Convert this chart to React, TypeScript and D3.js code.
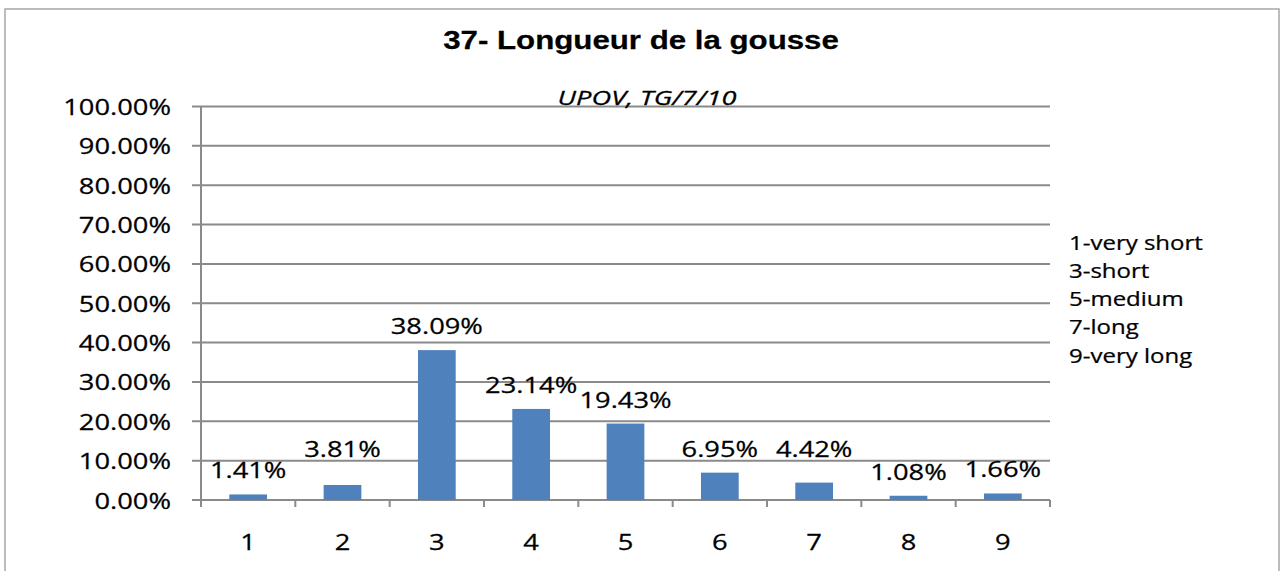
import React from "react";
import * as d3 from "d3";

const categories = ["1", "2", "3", "4", "5", "6", "7", "8", "9"];
const values = [1.41, 3.81, 38.09, 23.14, 19.43, 6.95, 4.42, 1.08, 1.66];
const labelLift = [0, 12, 0, 0, 0, 0, 10, 0, 0];
const yTicks = [0, 10, 20, 30, 40, 50, 60, 70, 80, 90, 100];
const legendItems = ["1-very short", "3-short", "5-medium", "7-long", "9-very long"];
const title = "37- Longueur de la gousse";
const subtitle = "UPOV, TG/7/10";

const W = 1283;
const H = 571;
const left = 201;
const right = 1050;
const top = 106.5;
const bottom = 500;
const SX = 1.3;
const FONT = "'Open Sans', sans-serif";
const GRID = "#8a8a8a";
const BAR = "#4F81BD";

function SText(props: {
  x: number;
  y: number;
  anchor?: string;
  size?: number;
  sx?: number;
  family?: string;
  weight?: string | number;
  italic?: boolean;
  children: React.ReactNode;
}) {
  const { x, y, anchor = "start", size = 21, sx = SX, family = FONT, weight = 400, italic = false } = props;
  return (
    <text
      transform={`translate(${x},${y}) scale(${sx},1)`}
      textAnchor={anchor}
      fontSize={size}
      fontFamily={family}
      fontWeight={weight}
      fontStyle={italic ? "italic" : "normal"}
      fill="#000"
      stroke="#000"
      strokeWidth={0.25}
    >
      {props.children}
    </text>
  );
}

export default function App() {
  const x = d3
    .scaleBand<string>()
    .domain(categories)
    .range([left, right])
    .paddingInner(0.6)
    .paddingOuter(0.3);
  const y = d3.scaleLinear().domain([0, 100]).range([bottom, top]);
  const step = x.step();
  const boundaries = d3.range(categories.length + 1).map((i) => left + i * step);

  return (
    <svg
      width={W}
      height={H}
      style={{ position: "absolute", left: 0, top: 0, background: "#fff" }}
    >
      <rect x={5} y={9} width={1274} height={620} fill="#fff" stroke="#a6a6a6" strokeWidth={1.5} />

      <SText x={641} y={49} anchor="middle" size={25} sx={1.25} family="'Liberation Sans', Arial, sans-serif" weight={700}>
        {title}
      </SText>

      {yTicks.map((t) => (
        <g key={t}>
          <line x1={192} x2={right} y1={y(t)} y2={y(t)} stroke={GRID} strokeWidth={2} />
          <SText x={171} y={y(t) + 8.5} anchor="end">
            {d3.format(".2f")(t) + "%"}
          </SText>
        </g>
      ))}

      <SText x={647} y={105} anchor="middle" size={19.5} sx={1.4} italic>
        {subtitle}
      </SText>

      <line x1={left} x2={left} y1={top} y2={bottom} stroke={GRID} strokeWidth={2} />
      {boundaries.map((b, i) => (
        <line key={i} x1={b} x2={b} y1={bottom} y2={bottom + 7} stroke={GRID} strokeWidth={2} />
      ))}

      {categories.map((c, i) => (
        <rect
          key={c}
          x={x(c)!}
          y={y(values[i])}
          width={x.bandwidth()}
          height={bottom - y(values[i])}
          fill={BAR}
        />
      ))}

      {categories.map((c, i) => (
        <SText key={c} x={x(c)! + x.bandwidth() / 2} y={y(values[i]) - 16 - labelLift[i]} anchor="middle">
          {values[i].toFixed(2) + "%"}
        </SText>
      ))}

      {categories.map((c) => (
        <SText key={c} x={x(c)! + x.bandwidth() / 2} y={550} anchor="middle">
          {c}
        </SText>
      ))}

      {legendItems.map((l, i) => (
        <SText key={l} x={1069} y={249.5 + i * 28.3} size={20} sx={1.2}>
          {l}
        </SText>
      ))}
    </svg>
  );
}
